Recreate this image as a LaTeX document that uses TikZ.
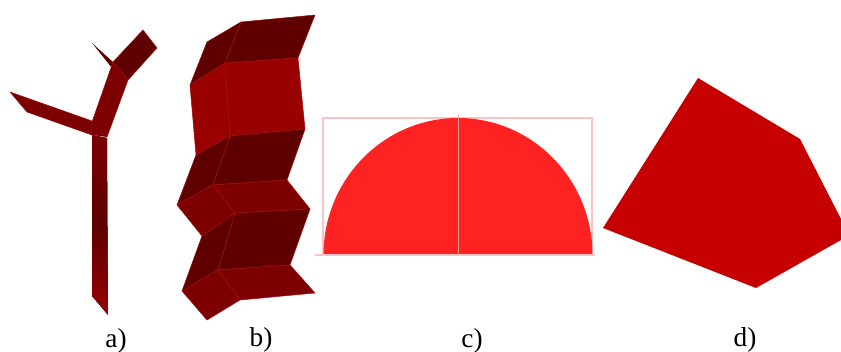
\documentclass[tikz,border=0pt]{standalone}
\usepackage{fontspec}
\setmainfont{Liberation Serif}
\definecolor{darkface}{HTML}{5E0000}
\definecolor{midface}{HTML}{7C0000}
\definecolor{lightface}{HTML}{990000}
\definecolor{edgeline}{HTML}{A01010}
\definecolor{flatred}{HTML}{FF2222}
\definecolor{flatdark}{HTML}{C60000}
\definecolor{framepink}{HTML}{FBC4C4}
\definecolor{axisline}{HTML}{F09C8C}
\tikzset{
  darkbox/.style={fill=darkface,draw=edgeline,line width=0.4pt,line join=round},
  midbox/.style={fill=midface,draw=edgeline,line width=0.4pt,line join=round},
  lightbox/.style={fill=lightface,draw=edgeline,line width=0.4pt,line join=round},
  caption/.style={font=\fontsize{20.5}{24}\selectfont,inner sep=0pt}
}
\begin{document}
\begin{tikzpicture}[x=0.75pt,y=-0.75pt]
\useasboundingbox (0,0) rectangle (841,352);
% a)
\fill[darkface] (92,43) -- (113,62) -- (112,68) -- cycle;
\draw[midbox] (113,62) -- (128,80) -- (107,137) -- (92,122) -- cycle;
\draw[darkbox] (143,30) -- (157,48) -- (128,80) -- (113,62) -- cycle;
\draw[midbox] (10,92) -- (92,121) -- (92,135) -- (27,112) -- cycle;
\fill[midface] (92,122) -- (107,137) -- (92,135) -- cycle;
\fill[top color=midface,bottom color=lightface,middle color=darkface] (92,135) -- (107,138) -- (108,315) -- (92,296) -- cycle;
% b)
\draw[darkbox] (241,22) -- (315,15) -- (298,58) -- (225,63) -- cycle;
\draw[darkbox] (207,42) -- (241,22) -- (225,63) -- (190,85) -- cycle;
\draw[lightbox] (225,63) -- (298,58) -- (305,129) -- (230,136) -- cycle;
\draw[lightbox] (190,85) -- (225,63) -- (230,136) -- (196,155) -- cycle;
\draw[darkbox] (230,136) -- (305,129) -- (287,180) -- (213,185) -- cycle;
\draw[darkbox] (196,155) -- (230,136) -- (213,185) -- (177,205) -- cycle;
\draw[midbox] (213,185) -- (287,180) -- (310,209) -- (235,213) -- cycle;
\draw[midbox] (177,205) -- (213,185) -- (235,213) -- (202,236) -- cycle;
\draw[darkbox] (235,213) -- (310,209) -- (290,265) -- (218,270) -- cycle;
\draw[darkbox] (202,236) -- (235,213) -- (218,270) -- (182,291) -- cycle;
\draw[midbox] (218,270) -- (290,265) -- (315,293) -- (240,300) -- cycle;
\draw[midbox] (182,291) -- (218,270) -- (240,300) -- (207,320) -- cycle;
% c)
\draw[framepink,line width=1pt] (323,255) -- (323,118) -- (592,118) -- (592,255);
\fill[flatred] (323.5,255) arc[start angle=180,end angle=0,x radius=134.5,y radius=-137] -- cycle;
\draw[framepink,line width=0.8pt] (315,255) -- (595,255);
\draw[axisline,line width=0.6pt] (458,115) -- (458,255);
% d)
\fill[flatdark] (698,78) -- (800,139) -- (841,219) -- (841,240) -- (756,288) -- (603,228) -- cycle;
\node[caption] (capa) at (116,341) {a)};
\node[caption] (capb) at (261,340) {b)};
\node[caption] (capc) at (472,341) {c)};
\node[caption] (capd) at (745,340) {d)};
\end{tikzpicture}
\end{document}
